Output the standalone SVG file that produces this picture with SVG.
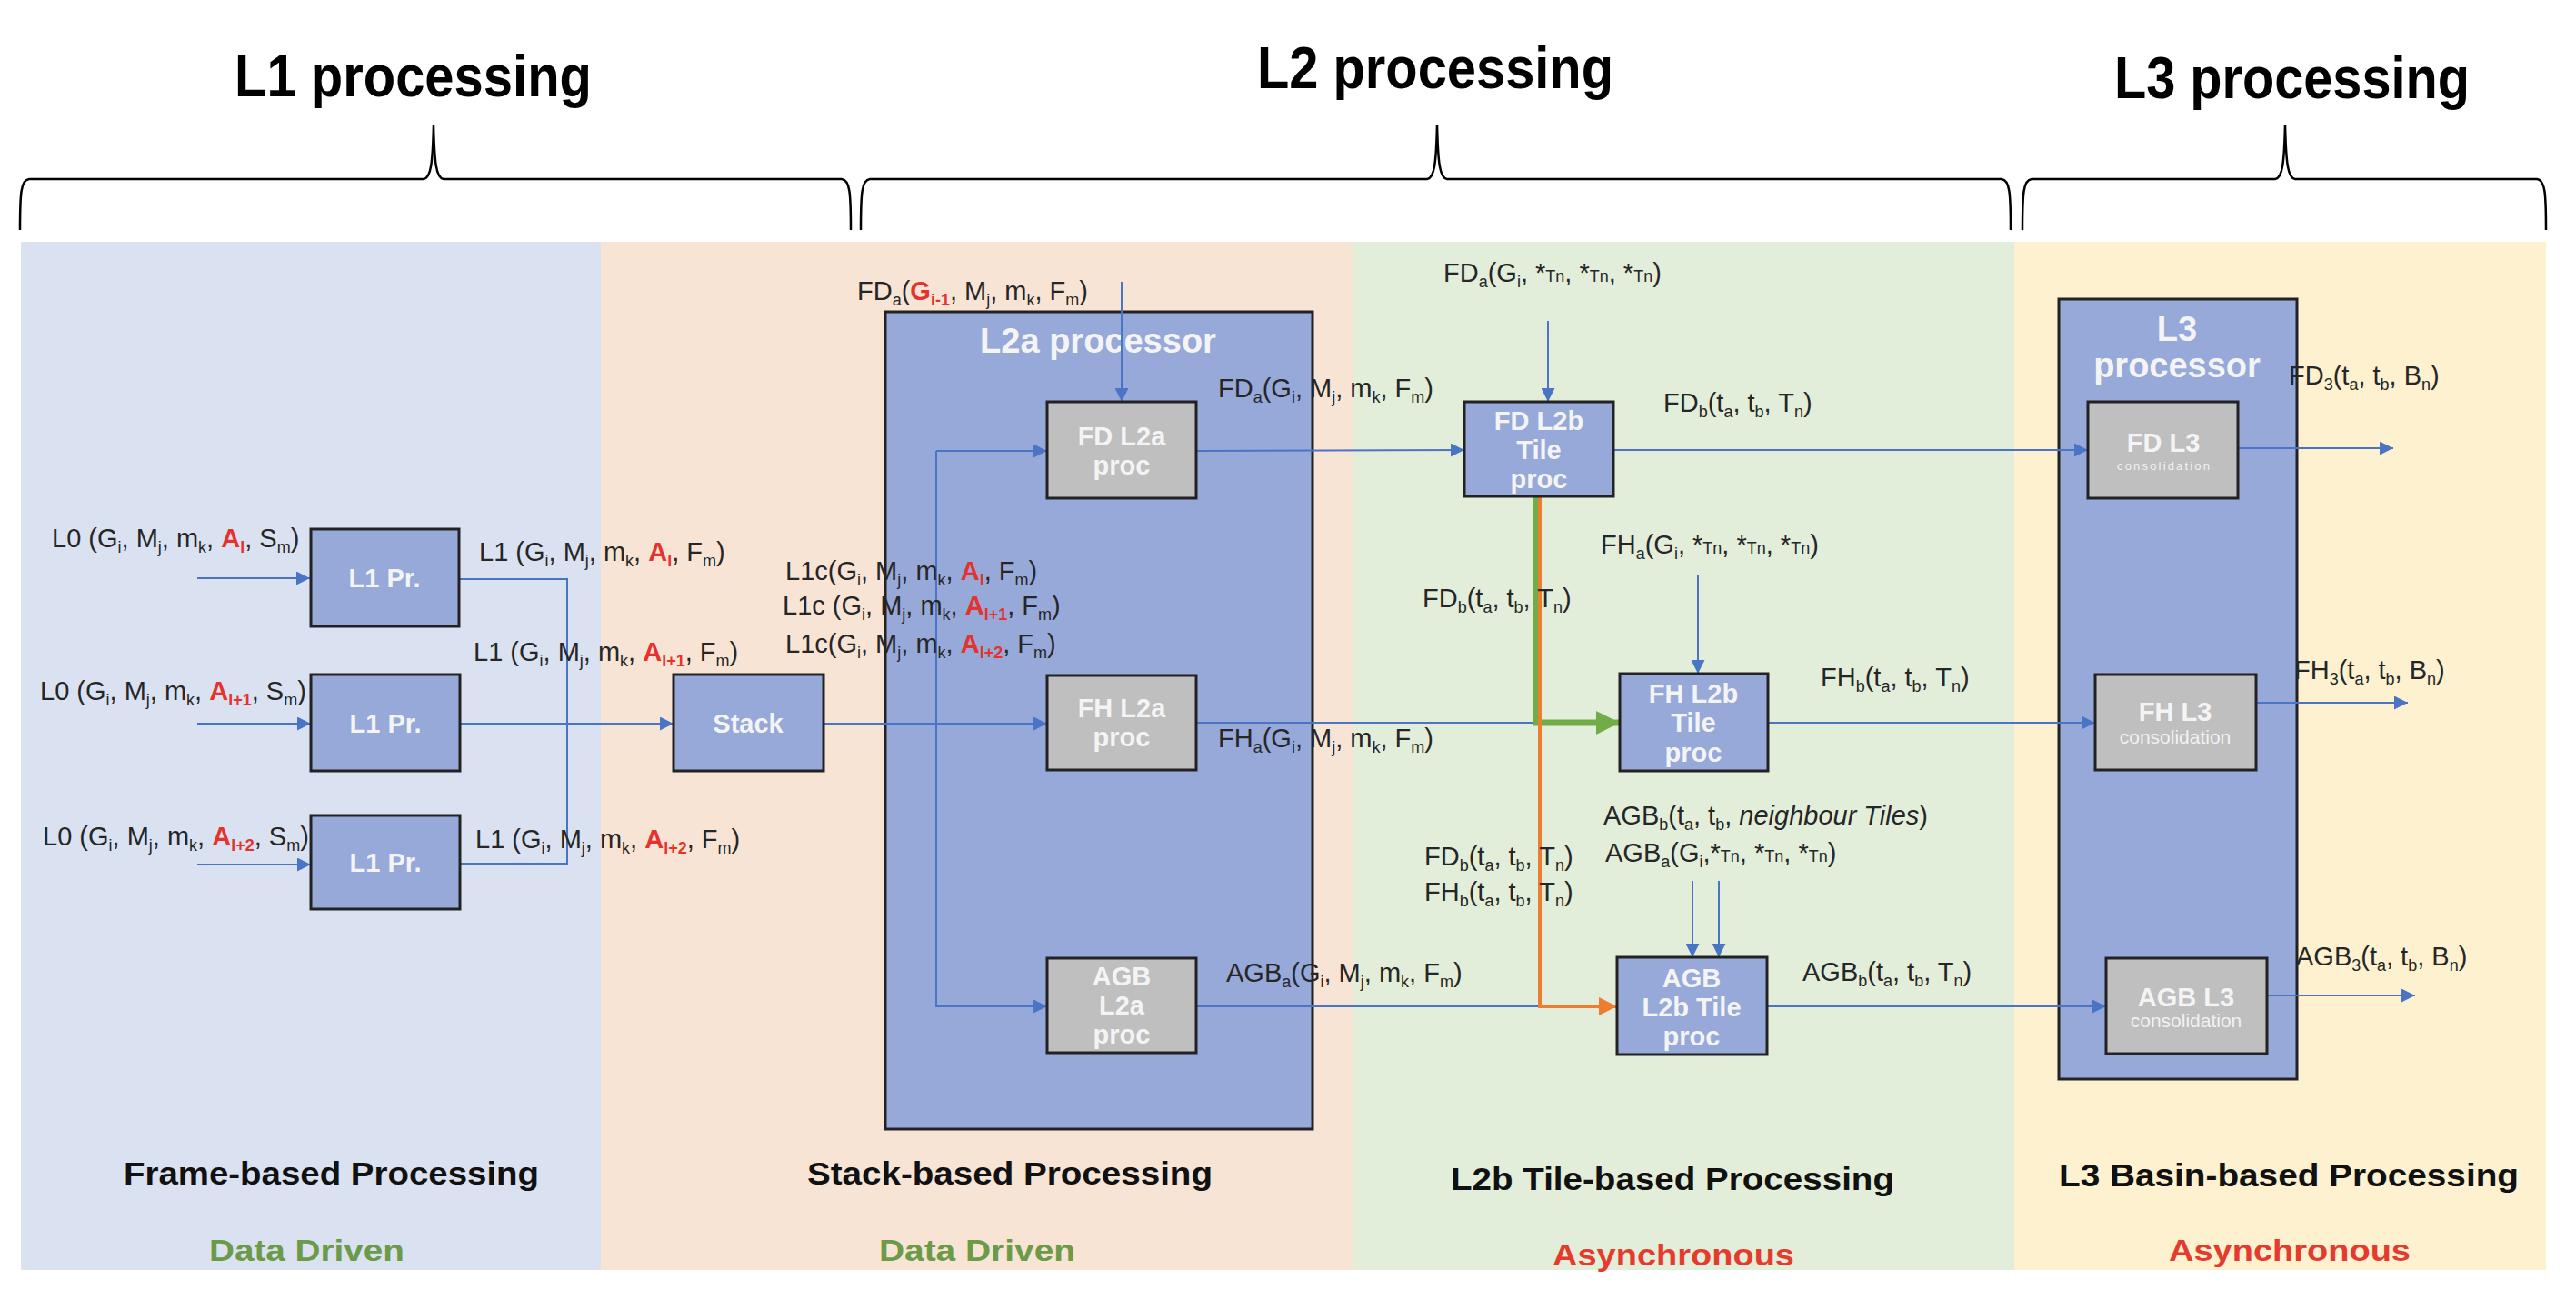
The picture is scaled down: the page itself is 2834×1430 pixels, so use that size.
<svg xmlns="http://www.w3.org/2000/svg" width="2834" height="1430" viewBox="0 0 2834 1430">
<style>
.lb{font-family:"Liberation Sans",Arial,sans-serif;font-size:29px;fill:#262626}
.s{font-size:18px}
.r{fill:#E5322D;font-weight:bold}
.it{font-style:italic}
.bx{fill:#96A9D9;stroke:#222;stroke-width:3}
.gb{fill:#BFBFBF;stroke:#222;stroke-width:3}
.bt{font-family:"Liberation Sans",Arial,sans-serif;font-weight:bold;font-size:29px;fill:#F4F4F4;text-anchor:middle}
.pt{font-family:"Liberation Sans",Arial,sans-serif;font-weight:bold;font-size:38px;fill:#F4F4F4;text-anchor:middle}
.cs{font-family:"Liberation Sans",Arial,sans-serif;font-size:21px;fill:#F2F2F2;text-anchor:middle}
.ln{stroke:#4A74C6;stroke-width:2;fill:none}
.hd{font-family:"Liberation Sans",Arial,sans-serif;font-weight:bold;font-size:64px;fill:#000}
.ft{font-family:"Liberation Sans",Arial,sans-serif;font-weight:bold;font-size:35px;fill:#111}
.dd{font-family:"Liberation Sans",Arial,sans-serif;font-weight:bold;font-size:34px;fill:#6B9A48}
.as{font-family:"Liberation Sans",Arial,sans-serif;font-weight:bold;font-size:34px;fill:#E53B2E}
.br{stroke:#000;stroke-width:2.5;fill:none}
</style>
<defs>
<marker id="ab" viewBox="0 0 10 10" refX="10" refY="5" markerWidth="15" markerHeight="15" markerUnits="userSpaceOnUse" orient="auto"><path d="M0,0 L10,5 L0,10 z" fill="#4A74C6"/></marker>
<marker id="ag" viewBox="0 0 10 10" refX="10" refY="5" markerWidth="26" markerHeight="26" markerUnits="userSpaceOnUse" orient="auto"><path d="M0,0 L10,5 L0,10 z" fill="#70AD47"/></marker>
<marker id="ao" viewBox="0 0 10 10" refX="10" refY="5" markerWidth="20" markerHeight="20" markerUnits="userSpaceOnUse" orient="auto"><path d="M0,0 L10,5 L0,10 z" fill="#ED7D31"/></marker>
</defs>
<rect width="2834" height="1430" fill="#fff"/>
<g id="panels">
<rect x="23" y="266" width="638" height="1131" fill="#DAE2F2"/>
<rect x="661" y="266" width="828" height="1131" fill="#F8E4D5"/>
<rect x="1489" y="266" width="727" height="1131" fill="#E3EEDA"/>
<rect x="2216" y="266" width="585" height="1131" fill="#FDF1D0"/>
</g>
<g id="braces">
<path class="br" d="M22,253 C22,212 23,198 32,197 L466,197 C474,196 476,180 477,137 C478,180 480,196 488,197 L926,197 C935,198 936,212 936,253"/>
<path class="br" d="M947,253 C947,212 948,198 957,197 L1570,197 C1578,196 1580,180 1581,137 C1582,180 1584,196 1592,197 L2202,197 C2211,198 2212,212 2212,253"/>
<path class="br" d="M2225,253 C2225,212 2226,198 2235,197 L2503,197 C2511,196 2513,180 2514,137 C2515,180 2517,196 2525,197 L2791,197 C2800,198 2801,212 2801,253"/>
</g>
<g id="headers">
<text class="hd" x="258" y="106" textLength="393" lengthAdjust="spacingAndGlyphs">L1 processing</text>
<text class="hd" x="1383" y="97" textLength="392" lengthAdjust="spacingAndGlyphs">L2 processing</text>
<text class="hd" x="2326" y="108" textLength="391" lengthAdjust="spacingAndGlyphs">L3 processing</text>
</g>
<g id="l2a-processor">
<rect class="bx" x="974" y="343" width="470" height="899"/>
<text class="pt" x="1208" y="388">L2a processor</text>
</g>
<g id="l3-processor">
<rect class="bx" x="2265" y="329" width="262" height="858"/>
<text class="pt" x="2395" y="375">L3</text>
<text class="pt" x="2395" y="415">processor</text>
</g>
<g id="connectors">
<line class="ln" x1="217" y1="636" x2="341" y2="636" marker-end="url(#ab)"/>
<line class="ln" x1="217" y1="796" x2="342" y2="796" marker-end="url(#ab)"/>
<line class="ln" x1="217" y1="951" x2="342" y2="951" marker-end="url(#ab)"/>
<polyline class="ln" points="505,637 624,637 624,950 505,950"/>
<line class="ln" x1="506" y1="796" x2="741" y2="796" marker-end="url(#ab)"/>
<line class="ln" x1="906" y1="796" x2="1152" y2="796" marker-end="url(#ab)"/>
<polyline class="ln" points="1030,496 1030,1107 1152,1107" marker-end="url(#ab)"/>
<line class="ln" x1="1030" y1="496" x2="1152" y2="496" marker-end="url(#ab)"/>
<line class="ln" x1="1234" y1="310" x2="1234" y2="442" marker-end="url(#ab)"/>
<line class="ln" x1="1316" y1="496" x2="1611" y2="495" marker-end="url(#ab)"/>
<line class="ln" x1="1316" y1="795" x2="1782" y2="795"/>
<line class="ln" x1="1316" y1="1107" x2="1779" y2="1107"/>
<line class="ln" x1="1703" y1="353" x2="1703" y2="442" marker-end="url(#ab)"/>
<line class="ln" x1="1775" y1="495" x2="2297" y2="495" marker-end="url(#ab)"/>
<polyline points="1690,546 1690,795 1782,795" fill="none" stroke="#70AD47" stroke-width="7" marker-end="url(#ag)"/>
<polyline points="1694,546 1694,1107 1779,1107" fill="none" stroke="#ED7D31" stroke-width="4" marker-end="url(#ao)"/>
<line class="ln" x1="1868" y1="633" x2="1868" y2="741" marker-end="url(#ab)"/>
<line class="ln" x1="1945" y1="795" x2="2305" y2="795" marker-end="url(#ab)"/>
<line class="ln" x1="1862" y1="969" x2="1862" y2="1053" marker-end="url(#ab)"/>
<line class="ln" x1="1891" y1="969" x2="1891" y2="1053" marker-end="url(#ab)"/>
<line class="ln" x1="1944" y1="1107" x2="2317" y2="1107" marker-end="url(#ab)"/>
<line class="ln" x1="2453" y1="493" x2="2633" y2="493" marker-end="url(#ab)"/>
<line class="ln" x1="2467" y1="773" x2="2649" y2="773" marker-end="url(#ab)"/>
<line class="ln" x1="2475" y1="1095" x2="2657" y2="1095" marker-end="url(#ab)"/>
</g>
<g id="l1pr-1"><rect class="bx" x="342" y="582" width="163" height="107"/><text class="bt" x="423" y="646">L1 Pr.</text></g>
<g id="l1pr-2"><rect class="bx" x="342" y="742" width="164" height="106"/><text class="bt" x="424" y="806">L1 Pr.</text></g>
<g id="l1pr-3"><rect class="bx" x="342" y="897" width="164" height="103"/><text class="bt" x="424" y="959">L1 Pr.</text></g>
<g id="stack"><rect class="bx" x="741" y="742" width="165" height="106"/><text class="bt" x="823" y="806">Stack</text></g>
<g id="fd-l2a"><rect class="gb" x="1152" y="442" width="164" height="106"/><text class="bt" x="1234" y="490">FD L2a</text><text class="bt" x="1234" y="522">proc</text></g>
<g id="fh-l2a"><rect class="gb" x="1152" y="743" width="164" height="104"/><text class="bt" x="1234" y="789">FH L2a</text><text class="bt" x="1234" y="821">proc</text></g>
<g id="agb-l2a"><rect class="gb" x="1152" y="1054" width="164" height="104"/><text class="bt" x="1234" y="1084">AGB</text><text class="bt" x="1234" y="1116">L2a</text><text class="bt" x="1234" y="1148">proc</text></g>
<g id="fd-l2b"><rect class="bx" x="1611" y="442" width="164" height="104"/><text class="bt" x="1693" y="473">FD L2b</text><text class="bt" x="1693" y="505">Tile</text><text class="bt" x="1693" y="537">proc</text></g>
<g id="fh-l2b"><rect class="bx" x="1782" y="741" width="163" height="107"/><text class="bt" x="1863" y="773">FH L2b</text><text class="bt" x="1863" y="805">Tile</text><text class="bt" x="1863" y="838">proc</text></g>
<g id="agb-l2b"><rect class="bx" x="1779" y="1053" width="165" height="107"/><text class="bt" x="1861" y="1086">AGB</text><text class="bt" x="1861" y="1118">L2b Tile</text><text class="bt" x="1861" y="1150">proc</text></g>
<g id="fd-l3"><rect class="gb" x="2297" y="442" width="165" height="106"/><text class="bt" x="2380" y="497">FD L3</text><text class="cs" x="2380" y="517" style="font-size:13px" textLength="102" lengthAdjust="spacing">consolidation</text></g>
<g id="fh-l3"><rect class="gb" x="2305" y="742" width="177" height="105"/><text class="bt" x="2393" y="793">FH L3</text><text class="cs" x="2393" y="818">consolidation</text></g>
<g id="agb-l3"><rect class="gb" x="2317" y="1054" width="177" height="105"/><text class="bt" x="2405" y="1107">AGB L3</text><text class="cs" x="2405" y="1130">consolidation</text></g>
<g id="labels">
<text class="lb" x="57" y="602">L0 (G<tspan class="s" dy="6">i</tspan><tspan dy="-6">, M</tspan><tspan class="s" dy="6">j</tspan><tspan dy="-6">, m</tspan><tspan class="s" dy="6">k</tspan><tspan dy="-6">, </tspan><tspan class="r">A</tspan><tspan class="s r" dy="6">l</tspan><tspan dy="-6">, S</tspan><tspan class="s" dy="6">m</tspan><tspan dy="-6">)</tspan></text>
<text class="lb" x="44" y="770">L0 (G<tspan class="s" dy="6">i</tspan><tspan dy="-6">, M</tspan><tspan class="s" dy="6">j</tspan><tspan dy="-6">, m</tspan><tspan class="s" dy="6">k</tspan><tspan dy="-6">, </tspan><tspan class="r">A</tspan><tspan class="s r" dy="6">l+1</tspan><tspan dy="-6">, S</tspan><tspan class="s" dy="6">m</tspan><tspan dy="-6">)</tspan></text>
<text class="lb" x="47" y="930">L0 (G<tspan class="s" dy="6">i</tspan><tspan dy="-6">, M</tspan><tspan class="s" dy="6">j</tspan><tspan dy="-6">, m</tspan><tspan class="s" dy="6">k</tspan><tspan dy="-6">, </tspan><tspan class="r">A</tspan><tspan class="s r" dy="6">l+2</tspan><tspan dy="-6">, S</tspan><tspan class="s" dy="6">m</tspan><tspan dy="-6">)</tspan></text>
<text class="lb" x="527" y="617">L1 (G<tspan class="s" dy="6">i</tspan><tspan dy="-6">, M</tspan><tspan class="s" dy="6">j</tspan><tspan dy="-6">, m</tspan><tspan class="s" dy="6">k</tspan><tspan dy="-6">, </tspan><tspan class="r">A</tspan><tspan class="s r" dy="6">l</tspan><tspan dy="-6">, F</tspan><tspan class="s" dy="6">m</tspan><tspan dy="-6">)</tspan></text>
<text class="lb" x="521" y="727">L1 (G<tspan class="s" dy="6">i</tspan><tspan dy="-6">, M</tspan><tspan class="s" dy="6">j</tspan><tspan dy="-6">, m</tspan><tspan class="s" dy="6">k</tspan><tspan dy="-6">, </tspan><tspan class="r">A</tspan><tspan class="s r" dy="6">l+1</tspan><tspan dy="-6">, F</tspan><tspan class="s" dy="6">m</tspan><tspan dy="-6">)</tspan></text>
<text class="lb" x="523" y="933">L1 (G<tspan class="s" dy="6">i</tspan><tspan dy="-6">, M</tspan><tspan class="s" dy="6">j</tspan><tspan dy="-6">, m</tspan><tspan class="s" dy="6">k</tspan><tspan dy="-6">, </tspan><tspan class="r">A</tspan><tspan class="s r" dy="6">l+2</tspan><tspan dy="-6">, F</tspan><tspan class="s" dy="6">m</tspan><tspan dy="-6">)</tspan></text>
<text class="lb" x="864" y="638">L1c(G<tspan class="s" dy="6">i</tspan><tspan dy="-6">, M</tspan><tspan class="s" dy="6">j</tspan><tspan dy="-6">, m</tspan><tspan class="s" dy="6">k</tspan><tspan dy="-6">, </tspan><tspan class="r">A</tspan><tspan class="s r" dy="6">l</tspan><tspan dy="-6">, F</tspan><tspan class="s" dy="6">m</tspan><tspan dy="-6">)</tspan></text>
<text class="lb" x="861" y="676">L1c (G<tspan class="s" dy="6">i</tspan><tspan dy="-6">, M</tspan><tspan class="s" dy="6">j</tspan><tspan dy="-6">, m</tspan><tspan class="s" dy="6">k</tspan><tspan dy="-6">, </tspan><tspan class="r">A</tspan><tspan class="s r" dy="6">l+1</tspan><tspan dy="-6">, F</tspan><tspan class="s" dy="6">m</tspan><tspan dy="-6">)</tspan></text>
<text class="lb" x="864" y="718">L1c(G<tspan class="s" dy="6">i</tspan><tspan dy="-6">, M</tspan><tspan class="s" dy="6">j</tspan><tspan dy="-6">, m</tspan><tspan class="s" dy="6">k</tspan><tspan dy="-6">, </tspan><tspan class="r">A</tspan><tspan class="s r" dy="6">l+2</tspan><tspan dy="-6">, F</tspan><tspan class="s" dy="6">m</tspan><tspan dy="-6">)</tspan></text>
<text class="lb" x="943" y="330">FD<tspan class="s" dy="6">a</tspan><tspan dy="-6">(</tspan><tspan class="r">G</tspan><tspan class="s r" dy="6">i-1</tspan><tspan dy="-6">, M</tspan><tspan class="s" dy="6">j</tspan><tspan dy="-6">, m</tspan><tspan class="s" dy="6">k</tspan><tspan dy="-6">, F</tspan><tspan class="s" dy="6">m</tspan><tspan dy="-6">)</tspan></text>
<text class="lb" x="1340" y="437">FD<tspan class="s" dy="6">a</tspan><tspan dy="-6">(G</tspan><tspan class="s" dy="6">i</tspan><tspan dy="-6">, M</tspan><tspan class="s" dy="6">j</tspan><tspan dy="-6">, m</tspan><tspan class="s" dy="6">k</tspan><tspan dy="-6">, F</tspan><tspan class="s" dy="6">m</tspan><tspan dy="-6">)</tspan></text>
<text class="lb" x="1340" y="822">FH<tspan class="s" dy="6">a</tspan><tspan dy="-6">(G</tspan><tspan class="s" dy="6">i</tspan><tspan dy="-6">, M</tspan><tspan class="s" dy="6">j</tspan><tspan dy="-6">, m</tspan><tspan class="s" dy="6">k</tspan><tspan dy="-6">, F</tspan><tspan class="s" dy="6">m</tspan><tspan dy="-6">)</tspan></text>
<text class="lb" x="1349" y="1080">AGB<tspan class="s" dy="6">a</tspan><tspan dy="-6">(G</tspan><tspan class="s" dy="6">i</tspan><tspan dy="-6">, M</tspan><tspan class="s" dy="6">j</tspan><tspan dy="-6">, m</tspan><tspan class="s" dy="6">k</tspan><tspan dy="-6">, F</tspan><tspan class="s" dy="6">m</tspan><tspan dy="-6">)</tspan></text>
<text class="lb" x="1588" y="310">FD<tspan class="s" dy="6">a</tspan><tspan dy="-6">(G</tspan><tspan class="s" dy="6">i</tspan><tspan dy="-6">, *</tspan><tspan class="s">Tn</tspan><tspan>, *</tspan><tspan class="s">Tn</tspan><tspan>, *</tspan><tspan class="s">Tn</tspan><tspan>)</tspan></text>
<text class="lb" x="1830" y="453">FD<tspan class="s" dy="6">b</tspan><tspan dy="-6">(t</tspan><tspan class="s" dy="6">a</tspan><tspan dy="-6">, t</tspan><tspan class="s" dy="6">b</tspan><tspan dy="-6">, T</tspan><tspan class="s" dy="6">n</tspan><tspan dy="-6">)</tspan></text>
<text class="lb" x="1761" y="609">FH<tspan class="s" dy="6">a</tspan><tspan dy="-6">(G</tspan><tspan class="s" dy="6">i</tspan><tspan dy="-6">, *</tspan><tspan class="s">Tn</tspan><tspan>, *</tspan><tspan class="s">Tn</tspan><tspan>, *</tspan><tspan class="s">Tn</tspan><tspan>)</tspan></text>
<text class="lb" x="1565" y="668">FD<tspan class="s" dy="6">b</tspan><tspan dy="-6">(t</tspan><tspan class="s" dy="6">a</tspan><tspan dy="-6">, t</tspan><tspan class="s" dy="6">b</tspan><tspan dy="-6">, T</tspan><tspan class="s" dy="6">n</tspan><tspan dy="-6">)</tspan></text>
<text class="lb" x="2003" y="755">FH<tspan class="s" dy="6">b</tspan><tspan dy="-6">(t</tspan><tspan class="s" dy="6">a</tspan><tspan dy="-6">, t</tspan><tspan class="s" dy="6">b</tspan><tspan dy="-6">, T</tspan><tspan class="s" dy="6">n</tspan><tspan dy="-6">)</tspan></text>
<text class="lb" x="1764" y="907">AGB<tspan class="s" dy="6">b</tspan><tspan dy="-6">(t</tspan><tspan class="s" dy="6">a</tspan><tspan dy="-6">, t</tspan><tspan class="s" dy="6">b</tspan><tspan dy="-6">, </tspan><tspan class="it">neighbour  Tiles</tspan><tspan>)</tspan></text>
<text class="lb" x="1766" y="948">AGB<tspan class="s" dy="6">a</tspan><tspan dy="-6">(G</tspan><tspan class="s" dy="6">i</tspan><tspan dy="-6">,*</tspan><tspan class="s">Tn</tspan><tspan>, *</tspan><tspan class="s">Tn</tspan><tspan>, *</tspan><tspan class="s">Tn</tspan><tspan>)</tspan></text>
<text class="lb" x="1567" y="952">FD<tspan class="s" dy="6">b</tspan><tspan dy="-6">(t</tspan><tspan class="s" dy="6">a</tspan><tspan dy="-6">, t</tspan><tspan class="s" dy="6">b</tspan><tspan dy="-6">, T</tspan><tspan class="s" dy="6">n</tspan><tspan dy="-6">)</tspan></text>
<text class="lb" x="1567" y="991">FH<tspan class="s" dy="6">b</tspan><tspan dy="-6">(t</tspan><tspan class="s" dy="6">a</tspan><tspan dy="-6">, t</tspan><tspan class="s" dy="6">b</tspan><tspan dy="-6">, T</tspan><tspan class="s" dy="6">n</tspan><tspan dy="-6">)</tspan></text>
<text class="lb" x="1983" y="1079">AGB<tspan class="s" dy="6">b</tspan><tspan dy="-6">(t</tspan><tspan class="s" dy="6">a</tspan><tspan dy="-6">, t</tspan><tspan class="s" dy="6">b</tspan><tspan dy="-6">, T</tspan><tspan class="s" dy="6">n</tspan><tspan dy="-6">)</tspan></text>
<text class="lb" x="2518" y="423">FD<tspan class="s" dy="6">3</tspan><tspan dy="-6">(t</tspan><tspan class="s" dy="6">a</tspan><tspan dy="-6">, t</tspan><tspan class="s" dy="6">b</tspan><tspan dy="-6">, B</tspan><tspan class="s" dy="6">n</tspan><tspan dy="-6">)</tspan></text>
<text class="lb" x="2524" y="747">FH<tspan class="s" dy="6">3</tspan><tspan dy="-6">(t</tspan><tspan class="s" dy="6">a</tspan><tspan dy="-6">, t</tspan><tspan class="s" dy="6">b</tspan><tspan dy="-6">, B</tspan><tspan class="s" dy="6">n</tspan><tspan dy="-6">)</tspan></text>
<text class="lb" x="2526" y="1062">AGB<tspan class="s" dy="6">3</tspan><tspan dy="-6">(t</tspan><tspan class="s" dy="6">a</tspan><tspan dy="-6">, t</tspan><tspan class="s" dy="6">b</tspan><tspan dy="-6">, B</tspan><tspan class="s" dy="6">n</tspan><tspan dy="-6">)</tspan></text>
</g>
<g id="footers">
<text class="ft" x="136" y="1303" textLength="457" lengthAdjust="spacingAndGlyphs">Frame-based Processing</text>
<text class="ft" x="888" y="1303" textLength="446" lengthAdjust="spacingAndGlyphs">Stack-based Processing</text>
<text class="ft" x="1596" y="1309" textLength="488" lengthAdjust="spacingAndGlyphs">L2b Tile-based Processing</text>
<text class="ft" x="2265" y="1305" textLength="506" lengthAdjust="spacingAndGlyphs">L3 Basin-based Processing</text>
<text class="dd" x="230" y="1387" textLength="215" lengthAdjust="spacingAndGlyphs">Data Driven</text>
<text class="dd" x="967" y="1387" textLength="216" lengthAdjust="spacingAndGlyphs">Data Driven</text>
<text class="as" x="1708" y="1392" textLength="266" lengthAdjust="spacingAndGlyphs">Asynchronous</text>
<text class="as" x="2386" y="1387" textLength="266" lengthAdjust="spacingAndGlyphs">Asynchronous</text>
</g>
</svg>
